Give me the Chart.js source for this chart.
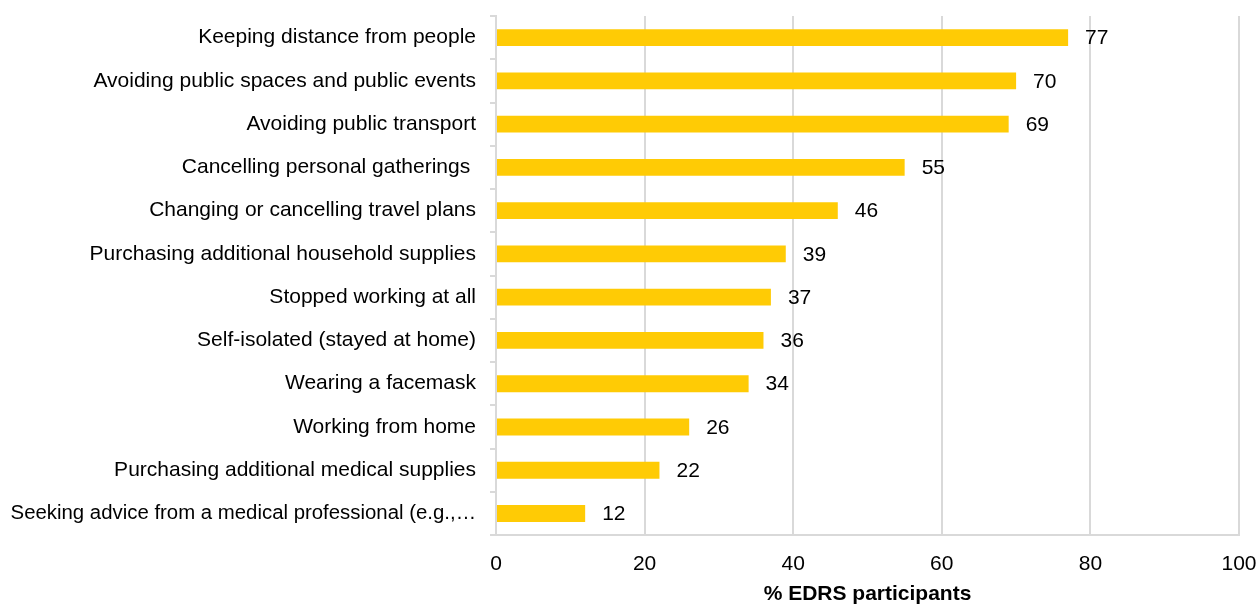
<!DOCTYPE html>
<html>
<head>
<meta charset="utf-8">
<script src="https://cdn.jsdelivr.net/npm/chart.js@4/dist/chart.umd.min.js"></script>
<style>
  html, body { margin: 0; padding: 0; background: #fff; }
  #wrap { width: 1258px; height: 604px; }
</style>
</head>
<body>
<div id="wrap"><canvas id="bar_graph"></canvas></div>
<script>
var categories = [
	'Keeping distance from people',
	'Avoiding public spaces and public events',
	'Avoiding public transport',
	'Cancelling personal gatherings ',
	'Changing or cancelling travel plans',
	'Purchasing additional household supplies',
	'Stopped working at all',
	'Self-isolated (stayed at home)',
	'Wearing a facemask',
	'Working from home',
	'Purchasing additional medical supplies',
	'Seeking advice from a medical professional (e.g., GP)'
];
var participants = [77, 70, 69, 55, 46, 39, 37, 36, 34, 26, 22, 12];
var xTicks = [0, 20, 40, 60, 80, 100];

var FONT = '"Liberation Sans", Arial, sans-serif';
var gridGrey = '#d9d9d9';
var LABEL_ROOM = 466;

// long category names get cut with an ellipsis and squeezed a little
var measureCtx = document.createElement('canvas').getContext('2d');
measureCtx.font = '21px ' + FONT;
function fitLabel(text, maxWidth) {
	if (measureCtx.measureText(text).width <= maxWidth) return text;
	var s = text;
	while (s.length > 0 && measureCtx.measureText(s + '\u2026').width > maxWidth) {
		s = s.slice(0, -1);
	}
	return s + '\u2026';
}
var shownLabels = categories.map(function(c) { return fitLabel(c, 480); });
var labelSizes = shownLabels.map(function(t) {
	var w = measureCtx.measureText(t).width;
	return w > LABEL_ROOM ? 21 * LABEL_ROOM / w : 21;
});

// numbers to the right of each bar
var valueLabels = {
	id: 'valueLabels',
	afterDatasetsDraw: function(chart) {
		var ctx = chart.ctx;
		var meta = chart.getDatasetMeta(0);
		ctx.save();
		ctx.font = '21px ' + FONT;
		ctx.fillStyle = '#000';
		ctx.textAlign = 'left';
		ctx.textBaseline = 'middle';
		meta.data.forEach(function(bar, i) {
			ctx.fillText(participants[i], bar.x + 17, bar.y + 1);
		});
		ctx.restore();
	}
};

Chart.defaults.font.family = FONT;
Chart.defaults.font.size = 21;
Chart.defaults.color = '#000';

var barGraph = new Chart(document.getElementById('bar_graph'), {
	type: 'bar',
	data: {
		labels: categories,
		datasets: [{
			label: '% EDRS participants',
			data: participants,
			backgroundColor: '#FFCB05',
			borderWidth: 0,
			barPercentage: 0.39,
			categoryPercentage: 1
		}]
	},
	options: {
		indexAxis: 'y',
		responsive: true,
		maintainAspectRatio: false,
		animation: false,
		layout: { padding: { top: 16, right: 19, bottom: -3, left: 0 } },
		plugins: {
			legend: { display: false },
			tooltip: { enabled: false }
		},
		scales: {
			x: {
				min: 0,
				max: 100,
				afterBuildTicks: function(scale) {
					scale.ticks = xTicks.map(function(v) { return { value: v }; });
				},
				afterFit: function(scale) {
					scale.paddingLeft = 0;
					scale.paddingRight = 0;
				},
				grid: { color: gridGrey, lineWidth: 2, drawTicks: false },
				border: { color: gridGrey, width: 2 },
				ticks: { padding: 16.5, font: { size: 21 } },
				title: {
					display: true,
					text: '% EDRS participants',
					font: { size: 21, weight: 'bold' },
					padding: { top: -11.5, bottom: 0 }
				}
			},
			y: {
				afterFit: function(scale) {
					scale.width = 496;
					scale.paddingTop = 0;
					scale.paddingBottom = 0;
				},
				grid: {
					offset: true,
					drawOnChartArea: false,
					drawTicks: true,
					tickLength: 6,
					color: gridGrey,
					lineWidth: 2
				},
				border: { color: gridGrey, width: 2 },
				ticks: {
					autoSkip: false,
					padding: 14,
					font: function(ctx) {
						return { size: labelSizes[ctx.index] || 21 };
					},
					callback: function(value) {
						return shownLabels[value];
					}
				}
			}
		}
	},
	plugins: [valueLabels]
});
</script>
</body>
</html>
